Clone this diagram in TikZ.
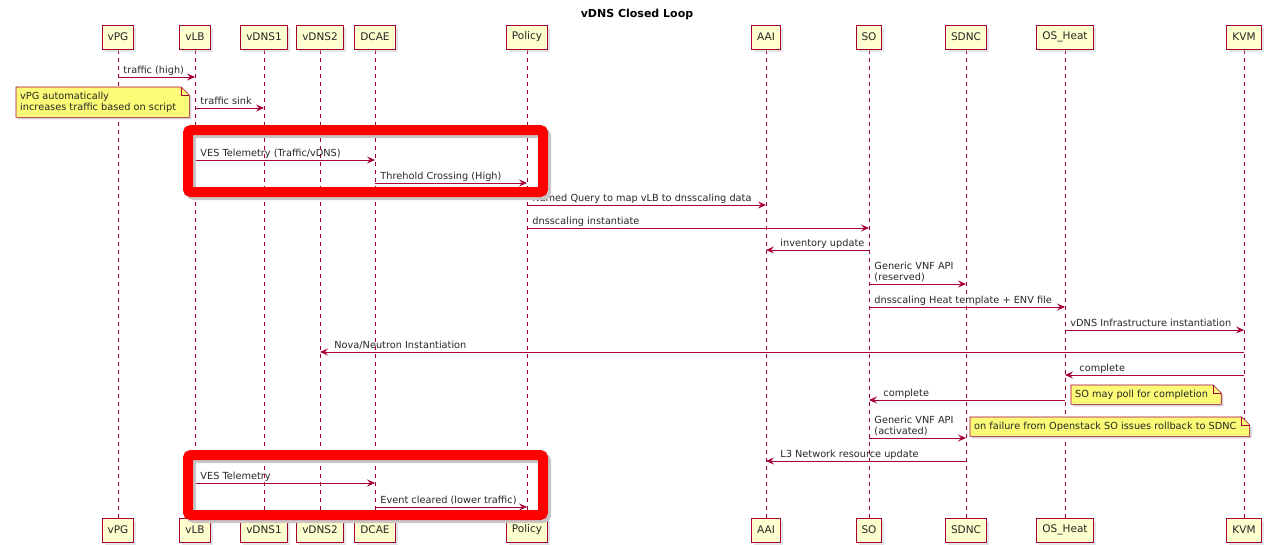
\documentclass[tikz,border=0pt]{standalone}
\usepackage{fontspec}
\setmainfont{DejaVu Sans}
\usetikzlibrary{arrows.meta,shadows}

\definecolor{plred}{HTML}{A80036}
\definecolor{plfill}{HTML}{FEFECE}
\definecolor{plnote}{HTML}{FBFB77}

\pgfdeclarelayer{life}
\pgfdeclarelayer{notes}
\pgfsetlayers{life,notes,main}

% message #1 -> #2 at height #3 with label #4
\newcommand\msgR[4]{\draw[msg] (#1 |- 0,#3) -- (#2 |- 0,#3) node[lbl,pos=0,xshift=5pt] {#4};}
\newcommand\msgL[4]{\draw[msg] (#1 |- 0,#3) -- (#2 |- 0,#3) node[lbl,pos=1,xshift=14pt] {#4};}
\newcommand\twolines[2]{\begin{tabular}[b]{@{}l@{}}#1\\#2\end{tabular}}
% note with folded corner: name, position, text
\newcommand\plnote[3]{%
  \node[notetxt] (#1) at #2 {#3};
  \begin{pgfonlayer}{notes}
    \fill[black!18,transform canvas={xshift=2pt,yshift=-2pt}] ([xshift=-4pt]#1.south west) -- ([xshift=-4pt]#1.north west)
      -- ([xshift=5pt]#1.north east) -- ([xshift=13pt,yshift=-8pt]#1.north east) -- ([xshift=13pt]#1.south east) -- cycle;
    \draw[notebody] ([xshift=-4pt]#1.south west) -- ([xshift=-4pt]#1.north west)
      -- ([xshift=5pt]#1.north east) -- ([xshift=13pt,yshift=-8pt]#1.north east) -- ([xshift=13pt]#1.south east) -- cycle;
    \draw[plred,line width=.6pt] ([xshift=5pt]#1.north east) |- ([xshift=13pt,yshift=-8pt]#1.north east);
  \end{pgfonlayer}}

\begin{document}
\begin{tikzpicture}[x=1pt,y=-1pt,>={Stealth[length=8pt,width=7pt,inset=3pt]},
  part/.style={draw=plred,fill=plfill,line width=1pt,minimum height=24pt,inner xsep=5.5pt,
    font=\fontsize{10.5}{12}\selectfont,text=black!85,
    drop shadow={shadow xshift=2.5pt,shadow yshift=-2.5pt,fill=black!20}},
  life/.style={draw=plred,line width=.8pt,dash pattern=on 4pt off 4pt},
  msg/.style={draw=plred,line width=.9pt,->},
  lbl/.style={anchor=base west,inner sep=0pt,yshift=4pt,text=black!85,font=\fontsize{9.75}{11}\selectfont},
  notetxt/.style={anchor=north west,inner xsep=0pt,inner ysep=4.8pt,align=left,text=black!85,
    font=\fontsize{9.75}{11}\selectfont},
  notebody/.style={draw=plred,fill=plnote,line width=.6pt},
  redbox/.style={draw=red,line width=10pt,rounded corners=3pt}]
\useasboundingbox (0,0) rectangle (1268,544);

\node[font=\bfseries\fontsize{11}{13}\selectfont] (title) at (637,14) {vDNS Closed Loop};

% participants, top and bottom, with lifelines
\foreach \n/\x/\t in {vPG/118/vPG, vLB/195/vLB, vDNS1/264/vDNS1, vDNS2/320/vDNS2, DCAE/375/DCAE,
    Policy/527/Policy, AAI/766/AAI, SO/869/SO, SDNC/966/SDNC, OSHeat/1065/OS\_Heat, KVM/1244/KVM} {
  \node[part] (\n) at (\x,37) {\t};
  \node[part] (\n-b) at (\x,530) {\t};
  \begin{pgfonlayer}{life}
    \draw[life] (\n) -- (\n-b);
  \end{pgfonlayer}
}

\msgR{vPG}{vLB}{77}{traffic (high)}
\msgR{vLB}{vDNS1}{108}{traffic sink}
\plnote{n1}{(20,87)}{vPG automatically\\increases traffic based on script}
\msgR{vLB}{DCAE}{160}{VES Telemetry (Traffic/vDNS)}
\msgR{DCAE}{Policy}{183}{Threhold Crossing (High)}
\msgR{Policy}{AAI}{205}{Named Query to map vLB to dnsscaling data}
\msgR{Policy}{SO}{228}{dnsscaling instantiate}
\msgL{SO}{AAI}{250}{inventory update}
\msgR{SO}{SDNC}{284}{\twolines{Generic VNF API}{(reserved)}}
\msgR{SO}{OSHeat}{307}{dnsscaling Heat template + ENV file}
\msgR{OSHeat}{KVM}{330}{vDNS Infrastructure instantiation}
\msgL{KVM}{vDNS2}{352}{Nova/Neutron Instantiation}
\msgL{KVM}{OSHeat}{375}{complete}
\msgL{OSHeat}{SO}{400}{complete}
\plnote{n2}{(1075,385)}{SO may poll for completion}
\msgR{SO}{SDNC}{438}{\twolines{Generic VNF API}{(activated)}}
\plnote{n3}{(974,417)}{on failure from Openstack SO issues rollback to SDNC}
\msgL{SDNC}{AAI}{461}{L3 Network resource update}
\msgR{vLB}{DCAE}{483}{VES Telemetry}
\msgR{DCAE}{Policy}{507}{Event cleared (lower traffic)}

% highlight frames
\draw[redbox,draw=black!22,transform canvas={xshift=3pt,yshift=-3pt}] (188,130) rectangle (543,192);
\draw[redbox] (188,130) rectangle (543,192);
\draw[redbox,draw=black!22,transform canvas={xshift=3pt,yshift=-3pt}] (188,455) rectangle (543,515);
\draw[redbox] (188,455) rectangle (543,515);
\end{tikzpicture}
\end{document}
